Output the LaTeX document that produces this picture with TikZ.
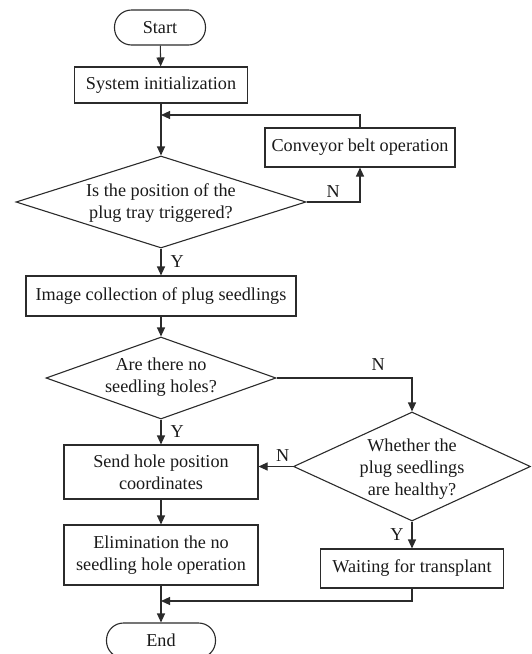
\documentclass[tikz,border=0pt]{standalone}
\usepackage{fontspec}
\setmainfont{Liberation Serif}
\usetikzlibrary{shapes.geometric,arrows.meta,calc}
\definecolor{linec}{HTML}{2B2B2B}
\definecolor{textc}{HTML}{1A1A1A}
\begin{document}
\begin{tikzpicture}[x=1pt,y=-1pt,
  line/.style={draw=linec, line width=1.1pt},
  arr/.style={line, -{Triangle[length=9pt,width=8pt]}},
  txt/.style={text=textc, font=\fontsize{18.2}{21.7}\selectfont},
  box/.style={txt, draw=linec, line width=1.1pt, rectangle, inner sep=0pt, align=center},
  term/.style={box, rounded corners=17pt},
  dia/.style={draw=linec, line width=1.1pt, diamond, inner sep=0pt},
  dtext/.style={txt, align=center, inner sep=0pt},
  lbl/.style={txt, inner sep=0pt}
]
\clip (0,0) rectangle (531,654);
\node[term, minimum width=91pt, minimum height=35pt] (start) at (160,27.5) {Start};
\node[box, minimum width=173pt, minimum height=36pt] (sys) at (161,85) {System initialization};
\node[box, minimum width=190pt, minimum height=39pt] (conv) at (360,147.5) {Conveyor belt operation};
\node[dia, minimum width=290pt, minimum height=92pt] (d1) at (161,202) {};
\node[dtext] (d1t) at (161,203) {Is the position of the\\plug tray triggered?};
\node[box, minimum width=270pt, minimum height=40pt] (img) at (161,296) {Image collection of plug seedlings};
\node[dia, minimum width=230pt, minimum height=82pt] (d2) at (161,378) {};
\node[dtext] (d2t) at (161,377) {Are there no\\seedling holes?};
\node[dia, minimum width=237pt, minimum height=109pt] (d3) at (412,466.5) {};
\node[dtext] (d3t) at (412,469) {Whether the\\plug seedlings\\are healthy?};
\node[box, minimum width=194pt, minimum height=54pt] (send) at (161,472) {Send hole position\\coordinates};
\node[box, minimum width=194pt, minimum height=60pt] (elim) at (161,555) {Elimination the no\\seedling hole operation};
\node[box, minimum width=183pt, minimum height=39pt] (wait) at (412,568.5) {Waiting for transplant};
\node[term, minimum width=109pt, minimum height=35pt] (end) at (161,640.5) {End};
\coordinate (loopj) at (161,115);
\coordinate (mergej) at (161,601);
\draw[arr] (start) -- (sys);
\draw[arr] (sys.south) -- (d1.north);
\draw[arr] (d1.east) -| node[lbl, pos=0.25, above=4pt] {N} (conv.south);
\draw[arr] (conv.north) |- (loopj);
\draw[arr] (d1.south) -- node[lbl, right=9pt] {Y} (img.north);
\draw[arr] (img) -- (d2);
\draw[arr] (d2.east) -| node[lbl, pos=0.375, above=7pt] {N} (d3.north);
\draw[arr] (d2.south) -- node[lbl, right=9pt] {Y} (send.north);
\draw[arr] (d3.west) -- node[lbl, pos=0.3, above=4pt] {N} (d3.west -| send.east);
\draw[arr] (d3.south) -- node[lbl, left=8pt] {Y} (wait.north);
\draw[arr] (send) -- (elim);
\draw[arr] (elim) -- (end);
\draw[arr] (wait.south) |- (mergej);
\end{tikzpicture}
\end{document}
